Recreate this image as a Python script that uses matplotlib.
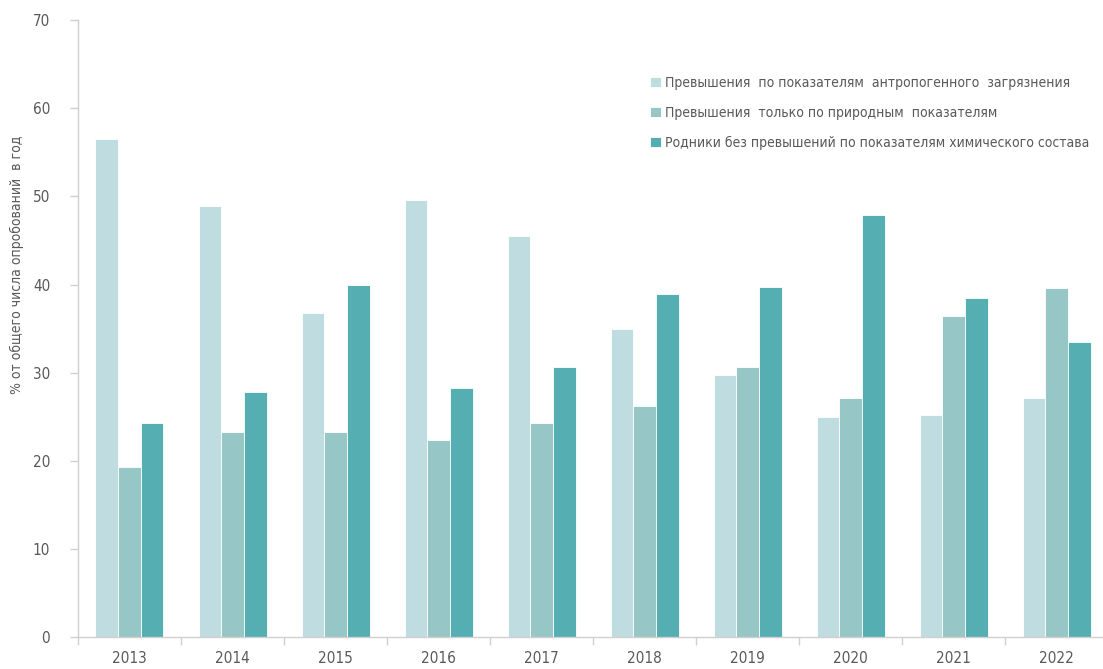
import matplotlib
matplotlib.use("Agg")
import matplotlib.pyplot as plt
import numpy as np

plt.rcParams['font.family'] = ['DejaVu Sans']
plt.rcParams['font.stretch'] = 'condensed'

years = ['2013', '2014', '2015', '2016', '2017', '2018', '2019', '2020', '2021', '2022']
anthropogenic = [56.5, 48.9, 36.8, 49.6, 45.5, 34.9, 29.7, 25.0, 25.2, 27.1]
natural_only = [19.3, 23.3, 23.3, 22.4, 24.3, 26.2, 30.7, 27.1, 36.4, 39.6]
no_exceed = [24.3, 27.8, 40.0, 28.3, 30.6, 38.9, 39.7, 47.9, 38.5, 33.5]

labels = ['Превышения  по показателям  антропогенного  загрязнения',
          'Превышения  только по природным  показателям',
          'Родники без превышений по показателям химического состава']
colors = ['#bfdce0', '#96c6c6', '#54aeb2']
text_col = '#595959'
axis_col = '#d0d0d0'

fig = plt.figure(figsize=(11.03, 6.69), dpi=100)
ax = fig.add_axes([0.0707, 0.0478, 0.934, 0.922])

x = np.arange(len(years))
w = 0.22
for i, (vals, c, lab) in enumerate(zip([anthropogenic, natural_only, no_exceed], colors, labels)):
    ax.bar(x + (i - 1) * w, vals, width=w, color=c, label=lab,
           edgecolor='white', linewidth=0.6)

ax.set_xlim(-0.5, len(years) - 0.5)
ax.set_ylim(0, 70)
ax.set_yticks(range(0, 71, 10))
ax.set_xticks(x)
ax.set_xticklabels(years)
ax.set_xticks(np.arange(-0.5, len(years), 1.0), minor=True)
ax.tick_params(axis='x', which='major', length=0, pad=10, labelsize=11, labelcolor=text_col)
ax.tick_params(axis='x', which='minor', length=6, color=axis_col, width=1)
ax.tick_params(axis='y', length=6, color=axis_col, width=1, pad=14,
               labelsize=11, labelcolor=text_col)

for s in ['top', 'right']:
    ax.spines[s].set_visible(False)
for s in ['left', 'bottom']:
    ax.spines[s].set_color(axis_col)
    ax.spines[s].set_linewidth(1)

ax.set_ylabel('% от общего числа опробований  в год', fontsize=10, color=text_col)
ax.yaxis.set_label_coords(-0.052, 0.603)

leg = ax.legend(loc='upper left', bbox_to_anchor=(0.555, 0.91), frameon=False,
                fontsize=10, handlelength=0.8, handleheight=0.8, handletextpad=0.3,
                labelspacing=1.15, borderpad=0, borderaxespad=0)
for t in leg.get_texts():
    t.set_color(text_col)

fig.savefig('out.png', dpi=100)
